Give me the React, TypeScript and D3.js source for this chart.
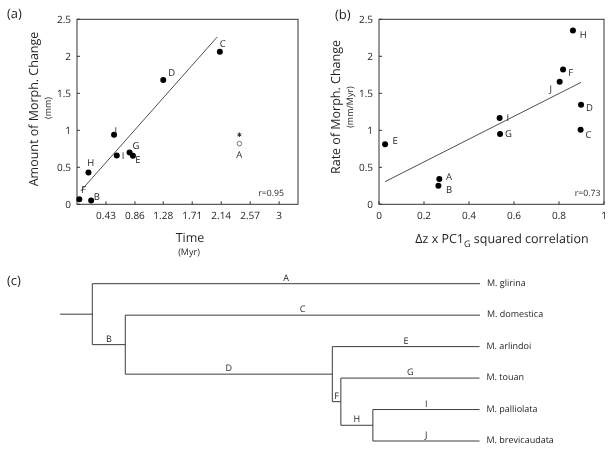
import React from "react";
import * as d3 from "d3";

// ---------- Panel (a) data ----------
const labelsA = ["F", "B", "H", "J", "I", "G", "E", "D", "C"];
const timeA = [0.034, 0.21, 0.17, 0.55, 0.59, 0.78, 0.83, 1.28, 2.12];
const amountA = [0.068, 0.05, 0.43, 0.94, 0.66, 0.7, 0.655, 1.68, 2.06];
const outlierA = { label: "A", time: 2.41, circle: 0.82, star: 0.94 };
const fitA = [
  [0.055, 0.18],
  [2.08, 2.26],
];
const xTicksA = [0.43, 0.86, 1.28, 1.71, 2.14, 2.57, 3];
const xTickLabelsA = ["0.43", "0.86", "1.28", "1.71", "2.14", "2.57", "3"];
const yTicks = [0, 0.5, 1, 1.5, 2, 2.5];
const yTickLabels = ["0", "0.5", "1", "1.5", "2", "2.5"];
const rA = "r=0.95";

// ---------- Panel (b) data ----------
const labelsB = ["E", "A", "B", "I", "G", "J", "F", "H", "D", "C"];
const corrB = [0.027, 0.268, 0.264, 0.536, 0.538, 0.803, 0.818, 0.862, 0.898, 0.896];
const rateB = [0.81, 0.343, 0.25, 1.165, 0.95, 1.657, 1.82, 2.35, 1.345, 1.007];
const fitB = [
  [0.027, 0.306],
  [0.898, 1.648],
];
const xTicksB = [0, 0.2, 0.4, 0.6, 0.8, 1];
const xTickLabelsB = ["0", "0.2", "0.4", "0.6", "0.8", "1"];
const rB = "r=0.73";

// ---------- Panel (c) tree data ----------
const treeIds = ["root", "A", "B", "C", "D", "E", "F", "G", "H", "I", "J"];
const treeParents = [null, "root", "root", "B", "B", "D", "D", "F", "F", "H", "H"];
const treeLengths = [0.2, 2.41, 0.205, 2.205, 1.287, 0.915, 0.053, 0.862, 0.199, 0.663, 0.663];
const treeTips: Record<string, string> = {
  A: "M. glirina",
  C: "M. domestica",
  E: "M. arlindoi",
  G: "M. touan",
  I: "M. palliolata",
  J: "M. brevicaudata",
};

// label offsets (presentation)
const offA: Record<string, [number, number]> = {
  F: [4.4, -9.3], B: [5.7, -3.7], H: [2.3, -10.3], J: [1.7, -4.7], I: [6.3, 0],
  G: [6.4, -6.7], E: [5, 4], D: [8.4, -7.3], C: [3, -8.6],
};
const offB: Record<string, [number, number]> = {
  E: [10, -4.3], A: [9.7, -2], B: [10.7, 4], I: [8.3, -1], G: [8.3, -1],
  J: [-9, 7], F: [7.7, 3.3], H: [10.3, 3.6], D: [8.3, 2.3], C: [8, 4.3],
};

const FONT = "'Open Sans', 'DejaVu Sans', sans-serif";
const INK = "#231f20";
const AX = "#333";

const yScale = d3.scaleLinear().domain([0, 2.5]).range([204.3, 19.3]);
const xScaleA = d3.scaleLinear().domain([0, 3.28]).range([77, 298]);
const xScaleB = d3.scaleLinear().domain([0, 1]).range([379, 604]);

function Frame({ x, ticksX, tickLabelsX }: { x: d3.ScaleLinear<number, number>; ticksX: number[]; tickLabelsX: string[] }) {
  const [x0, x1] = x.range();
  const [y0, y1] = yScale.range();
  return (
    <g>
      <rect x={x0} y={y1} width={x1 - x0} height={y0 - y1} fill="none" stroke={AX} strokeWidth={1} />
      {ticksX.map((t, i) => (
        <g key={"xt" + i}>
          <line x1={x(t)} x2={x(t)} y1={y0} y2={y0 - 3} stroke={AX} />
          <text x={x(t)} y={y0 + 15} fontSize={10} textAnchor="middle" fill={INK} fontFamily={FONT}>
            {tickLabelsX[i]}
          </text>
        </g>
      ))}
      {yTicks.map((t, i) => (
        <g key={"yt" + i}>
          <line x1={x0} x2={x0 + 3} y1={yScale(t)} y2={yScale(t)} stroke={AX} />
          <text x={x0 - 6} y={yScale(t) + 3.5} fontSize={10} textAnchor="end" fill={INK} fontFamily={FONT}>
            {yTickLabels[i]}
          </text>
        </g>
      ))}
    </g>
  );
}

function Tree() {
  const root = d3
    .stratify<{ id: string; parent: string | null; len: number }>()
    .id((d) => d.id)
    .parentId((d) => d.parent)(treeIds.map((id, i) => ({ id, parent: treeParents[i], len: treeLengths[i] })));
  d3.cluster<any>().nodeSize([1, 1]).separation(() => 1)(root as any);
  const dist = new Map<string, number>();
  root.each((n: any) => {
    dist.set(n.id, n.parent ? dist.get(n.parent.id)! + n.data.len : 0);
  });
  const leaves = root.leaves();
  const lx = leaves.map((l: any) => l.x as number);
  const yT = d3.scaleLinear().domain([d3.min(lx)!, d3.max(lx)!]).range([283.7, 441]);
  const xT = d3.scaleLinear().domain([0, d3.max(leaves, (l: any) => dist.get(l.id)!)!]).range([92.3, 480]);
  const items: React.ReactNode[] = [];
  const col = "#3c3c3c";
  items.push(
    <line key="stub" x1={xT(-root.data.len)} x2={xT(0)} y1={yT((root as any).x)} y2={yT((root as any).x)} stroke={col} />
  );
  root.each((n: any) => {
    if (n.children) {
      const ys = n.children.map((c: any) => yT(c.x));
      items.push(
        <line key={"v" + n.id} x1={xT(dist.get(n.id)!)} x2={xT(dist.get(n.id)!)} y1={d3.min(ys)} y2={d3.max(ys)} stroke={col} />
      );
    }
    if (n.parent) {
      const xa = xT(dist.get(n.parent.id)!);
      const xb = xT(dist.get(n.id)!);
      const y = yT(n.x);
      items.push(<line key={"h" + n.id} x1={xa} x2={xb} y1={y} y2={y} stroke={col} />);
      items.push(
        <text key={"l" + n.id} x={(xa + xb) / 2} y={y - 3} fontSize={9} textAnchor="middle" fill={INK} fontFamily={FONT}>
          {n.id}
        </text>
      );
      if (treeTips[n.id]) {
        items.push(
          <text key={"t" + n.id} x={xb + 7} y={y + 2} fontSize={9} fill={INK} fontFamily={FONT}>
            {treeTips[n.id]}
          </text>
        );
      }
    }
  });
  return <g>{items}</g>;
}

export default function App() {
  const star = d3.symbol(d3.symbolAsterisk, 14)()!;
  return (
    <svg
      width={612}
      height={450}
      style={{ position: "absolute", left: 0, top: 0, background: "#fff", willChange: "transform" }}
      textRendering="geometricPrecision"
    >
      <rect width={612} height={450} fill="#fff" />
      {/* Panel a */}
      <text x={7} y={18} fontSize={13} fill={INK} fontFamily={FONT}>(a)</text>
      <Frame x={xScaleA} ticksX={xTicksA} tickLabelsX={xTickLabelsA} />
      <line x1={xScaleA(fitA[0][0])} y1={yScale(fitA[0][1])} x2={xScaleA(fitA[1][0])} y2={yScale(fitA[1][1])} stroke={INK} strokeWidth={0.8} />
      {labelsA.map((l, i) => (
        <g key={"pa" + l}>
          <circle cx={xScaleA(timeA[i])} cy={yScale(amountA[i])} r={3} fill="#000" />
          <text x={xScaleA(timeA[i]) + offA[l][0]} y={yScale(amountA[i]) + offA[l][1] + 3.5} fontSize={9.5} textAnchor="middle" fill={INK} fontFamily={FONT}>
            {l}
          </text>
        </g>
      ))}
      <circle cx={xScaleA(outlierA.time)} cy={yScale(outlierA.circle)} r={2.3} fill="none" stroke="#777" strokeWidth={1} />
      <path d={star} transform={`translate(${xScaleA(outlierA.time)},${yScale(outlierA.star)})`} stroke="#222" strokeWidth={1} fill="none" />
      <text x={xScaleA(outlierA.time)} y={yScale(outlierA.circle) + 14.5} fontSize={9.5} textAnchor="middle" fill={INK} fontFamily={FONT}>
        {outlierA.label}
      </text>
      <text x={271} y={196} fontSize={8.7} textAnchor="middle" fill={INK} fontFamily={FONT}>{rA}</text>
      <text transform="translate(37.5,109) rotate(-90)" fontSize={12.5} textAnchor="middle" fill={INK} fontFamily={FONT}>
        Amount of Morph. Change
      </text>
      <text transform="translate(50.5,108) rotate(-90)" fontSize={9} textAnchor="middle" fill={INK} fontFamily={FONT}>
        (mm)
      </text>
      <text x={190} y={242} fontSize={12.5} textAnchor="middle" fill={INK} fontFamily={FONT}>Time</text>
      <text x={189} y={255} fontSize={9} textAnchor="middle" fill={INK} fontFamily={FONT}>(Myr)</text>

      {/* Panel b */}
      <text x={335} y={19} fontSize={13} fill={INK} fontFamily={FONT}>(b)</text>
      <Frame x={xScaleB} ticksX={xTicksB} tickLabelsX={xTickLabelsB} />
      <line x1={xScaleB(fitB[0][0])} y1={yScale(fitB[0][1])} x2={xScaleB(fitB[1][0])} y2={yScale(fitB[1][1])} stroke={INK} strokeWidth={0.8} />
      {labelsB.map((l, i) => (
        <g key={"pb" + l}>
          <circle cx={xScaleB(corrB[i])} cy={yScale(rateB[i])} r={3} fill="#000" />
          <text x={xScaleB(corrB[i]) + offB[l][0]} y={yScale(rateB[i]) + offB[l][1] + 3.5} fontSize={9.5} textAnchor="middle" fill={INK} fontFamily={FONT}>
            {l}
          </text>
        </g>
      ))}
      <text x={587.5} y={195.5} fontSize={8.7} textAnchor="middle" fill={INK} fontFamily={FONT}>{rB}</text>
      <text transform="translate(339.5,107) rotate(-90)" fontSize={12.5} textAnchor="middle" fill={INK} fontFamily={FONT}>
        Rate of Morph. Change
      </text>
      <text transform="translate(352.5,107) rotate(-90)" fontSize={9} textAnchor="middle" fill={INK} fontFamily={FONT}>
        (mm/Myr)
      </text>
      <text x={502} y={243} fontSize={12.5} textAnchor="middle" fill={INK} fontFamily={FONT}>
        Δz x PC1<tspan fontSize={9} dy={4}>G</tspan><tspan dy={-4}> squared correlation</tspan>
      </text>

      {/* Panel c */}
      <text x={7} y={285} fontSize={13} fill={INK} fontFamily={FONT}>(c)</text>
      <Tree />
    </svg>
  );
}
